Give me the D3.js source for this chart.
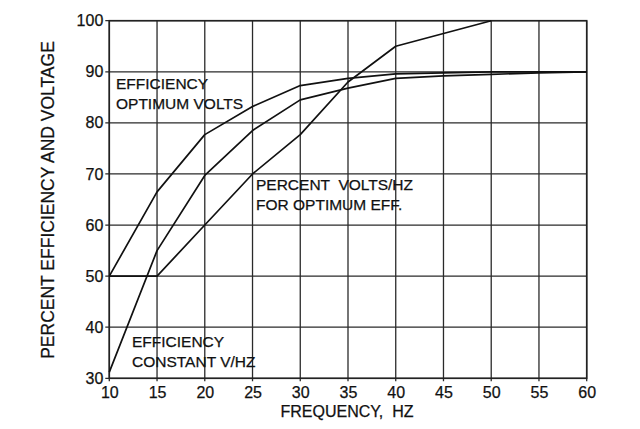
<!DOCTYPE html>
<html><head><meta charset="utf-8">
<script src="https://cdn.jsdelivr.net/npm/d3@7"></script>
<style>body{margin:0;background:#fff}svg{display:block}text{font-family:"Liberation Sans",Arial,sans-serif;fill:#111;stroke:#111;stroke-width:0.25}</style>
</head><body><svg id="c" width="640" height="429"></svg>
<script>
const effOptX = [10,15,20,25,30,35,40,45,50,55,60];
const effOpt  = [50,66.5,77.7,83.2,87.3,88.7,89.6,89.8,90,90,90];
const effConstX = [10,15,20,25,30,35,40,45,50,55,60];
const effConst  = [31.2,55,69.7,78.5,84.5,86.8,88.7,89.2,89.5,89.8,90];
const pctVoltsX = [10,15,20,25,30,35,40,50];
const pctVolts  = [50,50,60,70,77.7,88,95,100];
const xTicks = [10,15,20,25,30,35,40,45,50,55,60];
const yTicks = [30,40,50,60,70,80,90,100];

const svg = d3.select("#c");
const L=109.3,R=586.7,T=20.7,B=378.3;
const x = d3.scaleLinear().domain([10,60]).range([L,R]);
const y = d3.scaleLinear().domain([30,100]).range([B,T]);
const g = svg.append("g");

// grid
g.selectAll(".vx").data(xTicks).join("line")
 .attr("x1",d=>x(d)).attr("x2",d=>x(d)).attr("y1",T).attr("y2",B+3)
 .attr("stroke","#2a2a2a").attr("stroke-width",1.3);
g.selectAll(".hy").data(yTicks).join("line")
 .attr("x1",L-4).attr("x2",R).attr("y1",d=>y(d)).attr("y2",d=>y(d))
 .attr("stroke","#2a2a2a").attr("stroke-width",1.3);
g.append("rect").attr("x",L).attr("y",T).attr("width",R-L).attr("height",B-T)
 .attr("fill","none").attr("stroke","#222").attr("stroke-width",1.6);

// axes labels (via d3 axes, domain hidden)
const xa = svg.append("g").attr("transform",`translate(0,${B})`)
 .call(d3.axisBottom(x).tickValues(xTicks).tickSize(0).tickPadding(8).tickFormat(d3.format("d")));
xa.select(".domain").remove();
xa.selectAll("text").attr("font-size",16).attr("fill","#111").attr("font-family","Liberation Sans, Arial, sans-serif");
const ya = svg.append("g").attr("transform",`translate(${L},0)`)
 .call(d3.axisLeft(y).tickValues(yTicks).tickSize(0).tickPadding(6).tickFormat(d3.format("d")));
ya.select(".domain").remove();
ya.selectAll("text").attr("font-size",16).attr("fill","#111").attr("font-family","Liberation Sans, Arial, sans-serif");

// curves
const line = d3.line().x(d=>x(d[0])).y(d=>y(d[1]));
[[effOptX,effOpt],[effConstX,effConst],[pctVoltsX,pctVolts]].forEach(([xs,ys])=>{
  g.append("path").datum(xs.map((v,i)=>[v,ys[i]])).attr("d",line)
   .attr("fill","none").attr("stroke","#111").attr("stroke-width",1.7).attr("stroke-linejoin","round");
});

// annotations
function label(px,py,lines){
  const t = svg.append("text").attr("font-size",15.5);
  lines.forEach((s,i)=>t.append("tspan").attr("x",px).attr("y",py+i*20).attr("xml:space","preserve").text(s));
}
label(116,89,["EFFICIENCY","OPTIMUM VOLTS"]);
label(256,190,["PERCENT  VOLTS/HZ","FOR OPTIMUM EFF."]);
label(132,346.5,["EFFICIENCY","CONSTANT V/HZ"]);

svg.append("text").attr("x",347).attr("y",417).attr("text-anchor","middle")
 .attr("font-size",16).attr("xml:space","preserve").style("white-space","pre").text("FREQUENCY,  HZ");
svg.append("text").attr("transform",`translate(54,200) rotate(-90)`).attr("text-anchor","middle")
 .attr("font-size",17.5).text("PERCENT EFFICIENCY AND VOLTAGE");
</script></body></html>
